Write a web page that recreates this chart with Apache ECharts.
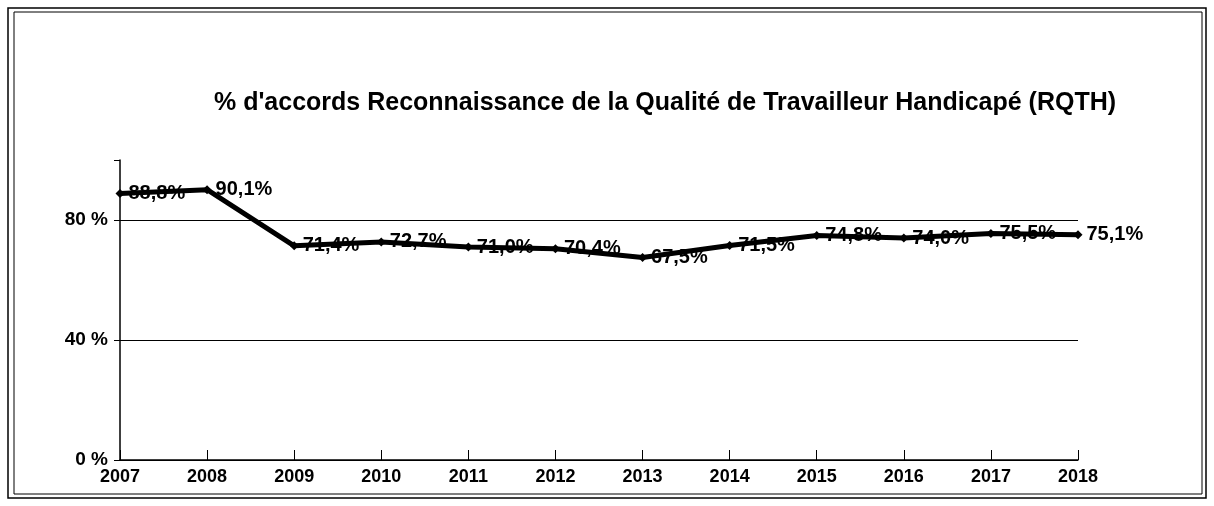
<!DOCTYPE html>
<html>
<head>
<meta charset="utf-8">
<script src="https://cdn.jsdelivr.net/npm/echarts@6/dist/echarts.min.js"></script>
<style>
    html, body { margin: 0; padding: 0; background: #fff; }
    #chart { width: 1214px; height: 506px; }
</style>
</head>
<body>
<div id="chart"></div>
<script>
const years = ['2007', '2008', '2009', '2010', '2011', '2012', '2013', '2014', '2015', '2016', '2017', '2018']
const rqthValues = [88.8, 90.1, 71.4, 72.7, 71.0, 70.4, 67.5, 71.5, 74.8, 74.0, 75.5, 75.1]
const yTicks = [0, 40, 80]

const boldFont = '"Liberation Sans", Arial, sans-serif'

const chart = echarts.init(document.getElementById('chart'))

chart.setOption({
    backgroundColor: '#fff',
    animation: false,
    title: {
        text: "% d'accords Reconnaissance de la Qualité de Travailleur Handicapé (RQTH)",
        left: 660,
        textAlign: 'center',
        top: 86,
        textStyle: {
            fontFamily: boldFont,
            fontSize: 25,
            fontWeight: 'bold',
            color: '#000',
        },
    },
    graphic: [
        {
            type: 'rect',
            shape: { x: 8, y: 8, width: 1198, height: 490 },
            style: { fill: 'none', stroke: '#000', lineWidth: 1.5 },
        },
        {
            type: 'rect',
            shape: { x: 14, y: 12, width: 1188, height: 482 },
            style: { fill: 'none', stroke: '#000', lineWidth: 1 },
        },
    ],
    grid: {
        left: 120,
        right: 136,
        top: 160,
        bottom: 46,
        containLabel: false,
    },
    xAxis: {
        type: 'category',
        data: years,
        boundaryGap: false,
        axisLine: { lineStyle: { color: '#000', width: 1.5 } },
        axisTick: { inside: true, length: 10, lineStyle: { color: '#000' } },
        axisLabel: {
            color: '#000',
            fontFamily: boldFont,
            fontWeight: 'bold',
            fontSize: 18,
            margin: 8,
        },
        splitLine: { show: false },
    },
    yAxis: {
        type: 'value',
        min: 0,
        max: 100,
        interval: 40,
        axisLine: { show: true, lineStyle: { color: '#000', width: 1.5 } },
        axisTick: { show: true, length: 6, lineStyle: { color: '#000' } },
        axisLabel: {
            color: '#000',
            fontFamily: boldFont,
            fontWeight: 'bold',
            fontSize: 19,
            margin: 12,
            formatter: function (v) {
                return yTicks.indexOf(v) >= 0 ? v + ' %' : ''
            },
        },
        splitLine: {
            show: true,
            lineStyle: {
                color: ['#000', '#000', '#000', 'rgba(0,0,0,0)'],
                width: 1.2,
            },
        },
    },
    series: [
        {
            name: 'RQTH',
            type: 'line',
            data: rqthValues,
            symbol: 'diamond',
            symbolSize: 9,
            lineStyle: { color: '#000', width: 5 },
            itemStyle: { color: '#000' },
            label: {
                show: true,
                position: 'right',
                distance: 4,
                color: '#000',
                fontFamily: boldFont,
                fontWeight: 'bold',
                fontSize: 20,
                formatter: function (p) {
                    return p.value.toFixed(1).replace('.', ',') + '%'
                },
            },
        },
    ],
})
</script>
</body>
</html>
